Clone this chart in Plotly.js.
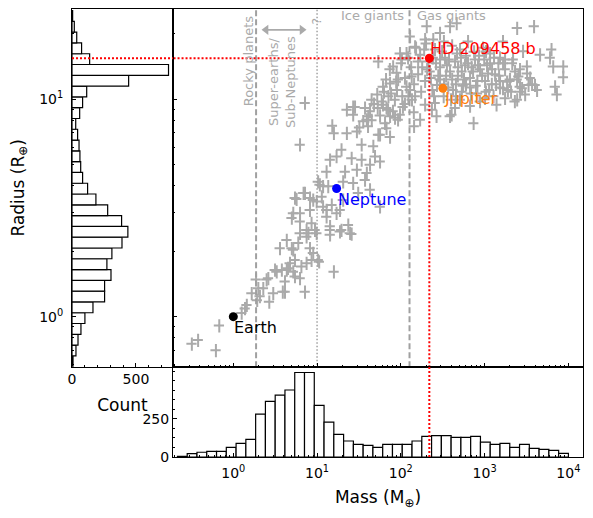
<!DOCTYPE html>
<html><head><meta charset="utf-8">
<script src="https://cdn.plot.ly/plotly-3.0.1.min.js"></script>
<style>html,body{margin:0;padding:0;background:#fff}#chart{width:593px;height:518px}</style>
</head><body><div id="chart"></div>
<script>
// ---- data ----
const planetMass = [
0.32,0.38,0.62,0.68,1.38,1.26,1.45,1.87,1.99,1.66,2.08,1.93,2.69,3.0,3.9,2.62,3.3,4.14,4.35,4.75,
5.45,6.26,7.18,6.5,7.5,8.6,9.0,8.24,10.6,15.9,3.61,4.35,5.2,5.97,7.5,9.9,6.26,14.3,18.8,25.9,
10.8,13.6,6.9,5.45,8.24,9.9,11.8,15.0,18.8,20.5,5.2,6.26,8.6,9.45,7.9,13.0,14.3,19.6,23.6,24.8,
5.0,10.3,5.45,4.5,3.8,3.15,5.2,2.5,2.28,4.14,
7.18,6.26,15.2,15.9,22.7,29.9,27.0,35.6,27.0,42.9,39.3,56.5,67.5,74.4,34.1,47,25.9,34.1,42.9,56.5,
49.2,29.9,39.3,19.6,14.3,17.1,13.0,10.3,11.8,21.6,20.5,27.0,37.4,42.9,31.0,56.5,11.4,9.0,5.7,7.18,
5.0,6.26,8.24,13.0,17.1,14.3,7.5,61.3,80.6,106,144,97.9,74.4,
22.7,28.4,37.4,44.8,40.9,52.3,61.3,59.2,71.2,67.5,85.3,64.8,53.9,74.4,89,81,97.9,53.9,101,93,
117,123,135,129,117,148,204,195,256,267,387,244,294,387,465,
2450,3900,1660,2880,4600,6300,6050,6600,8700,8700,6950,7300,4000,3350,3200,2550,2650,3050,2300,1660,
1390,740,2000,1530,405,2450,143,
170,214,256,294,337,387,444,509,584,671,769,883,1013,1162,1334,1530,1756,2015,161,195,
238,294,368,455,535,671,820,1040,1280,133,112,90,129,223,410,635,960,1162,1530,750,
327,280,480,600,820,1100,1460,1900,2312,2652,200,152,103,85,112,148,195,325,509,883,
74,63,53,45,32,243,355,535,700,990,410,600,1220,180,270,455,1756,2140,2650,3500,
161,190,229,263,311,347,376,420,482,523,568,634,690,729,790,858,933,1070,1131,1228,
1371,1489,1662,1856,2071,2188,2443,2803,3217,3691,4235,122,144,175,206,249,328,398,553,1013,
136,104,88,76.5,66.6,56.5,47.9,40.6,70.4,92.7,170,235,444,671,1756,294,469,1041,1297,835
];
const planetRadius = [
0.75,0.78,0.70,0.91,1.09,1.04,1.13,1.48,1.35,1.28,1.24,1.19,1.17,1.28,1.30,1.50,1.61,1.45,1.64,1.76,
1.53,1.50,1.30,1.70,1.76,1.82,1.96,2.06,1.79,1.61,2.06,2.25,2.03,2.18,2.33,2.42,2.42,2.38,2.46,2.40,
4.04,3.97,3.70,3.51,3.51,3.38,3.20,3.26,3.09,3.44,2.99,2.74,2.69,2.50,2.42,2.88,2.50,2.50,2.64,2.42,
2.06,1.82,1.82,1.67,1.64,1.64,1.61,1.48,1.35,1.30,
9.6,6.17,7.54,6.97,6.97,7.1,8.48,7.9,9.2,8.8,8.04,6.86,7.35,6.7,6.17,6.07,5.35,5.26,4.99,5.16,
5.45,4.73,4.57,5.85,5.26,5.45,4.64,4.17,3.97,4.64,4.17,4.11,4.25,3.83,3.70,3.20,3.56,3.44,3.47,3.70,
2.84,2.99,3.09,3.09,2.99,2.60,2.50,9.42,8.8,9.2,7.5,8.48,8.34,
8.94,9.2,9.1,9.94,8.34,10.5,11.4,9.75,10.3,9.1,8.2,7.75,6.86,11.8,13.2,14.1,16.2,14.9,14.6,12.3,
11.4,10.3,12.7,19.4,16.2,17.4,21.6,18.8,9.6,8.34,8.34,18.8,20.1,21.6,22.3,
21.2,21.6,18.4,16.6,16.0,16.9,15.5,14.1,14.1,12.6,11.4,10.5,11.6,11.6,14.1,12.7,11.4,10.5,9.75,11.2,
9.42,7.75,12.1,12.1,8.48,9.94,8.7,
16.0,14.9,16.9,14.0,15.5,13.4,14.9,16.9,14.3,12.5,15.2,13.7,12.1,14.6,13.0,11.3,13.7,12.3,13.0,12.1,
11.0,12.3,11.3,11.7,10.8,11.3,10.6,10.8,10.3,14.0,12.5,11.0,11.0,13.4,17.6,18.4,17.2,16.2,15.5,16.5,
18.4,12.8,12.8,15.8,12.1,13.1,14.6,11.0,13.4,10.8,18.0,17.2,15.2,9.94,9.5,10.3,9.42,10.3,9.94,9.75,
13.7,10.8,9.1,8.0,7.4,15.5,14.3,13.4,14.0,15.2,12.3,11.7,11.7,14.0,11.6,10.3,15.2,14.6,13.7,12.5,
14.9,16.9,12.5,14.6,16.55,12.8,15.2,11.0,14.0,15.5,12.3,14.6,10.6,13.4,11.5,15.8,12.8,14.3,11.0,13.7,
11.7,12.8,14.6,12.0,10.8,15.2,12.3,11.2,13.1,11.7,11.0,15.5,11.7,10.8,13.7,10.3,11.7,9.94,11.5,10.1,
9.94,10.3,12.0,10.6,12.3,8.4,9.5,7.5,8.94,8.04,8.04,8.94,9.1,9.3,10.1,15.2,16.2,16.55,15.5,14.3
];

const namedPlanets = ['Earth', 'Neptune', 'Jupiter', 'HD 209458 b'];
const namedMass    = [1, 17.1, 317.8, 219];
const namedRadius  = [1, 3.88, 11.2, 15.4];
const namedColor   = ['#000000', '#0000ff', '#ff7f0e', '#ff0000'];

// histogram of log10(mass): 40 bins
const massCounts = [4,22,31,37,37,63,89,116,281,364,406,439,554,554,338,229,148,105,83,76,
                    63,83,83,83,105,135,140,140,129,129,135,98,83,89,63,83,57,50,44,24];
const massBinStart = -0.667, massBinWidth = 0.1167;
// histogram of log10(radius): 33 bins, bottom to top
const radiusCounts = [8,31,47,70,101,164,255,255,305,273,312,391,437,388,279,187,122,83,68,62,
                      55,44,29,60,83,115,443,755,138,75,37,18,5];
const radiusBinStart = -0.230, radiusBinWidth = 0.0496;

const classBoundaryMass = [1.87, 10, 127];   // rocky | super-earth | ? | ice giant | gas giant
const arrowMass = [2.46, 6.61], arrowRadius = [20.8, 20.8];
const decadeTicks = [0, 1, 2, 3, 4];

// ---- geometry ----
const D0 = 0.19765, E0 = 0.2016;
const xRangeLog = [-0.72, 4.175], yRangeLog = [-0.230, 1.414];
const GRAY = '#aaaaaa', LINEGRAY = '#a0a0a0';
const lg = Math.log10;

const minorMass = [];
for (let e = -1; e <= 3; e++) for (let d = 2; d <= 9; d++) minorMass.push(d * Math.pow(10, e));
const minorRad = [];
for (let e = -1; e <= 1; e++) for (let d = 2; d <= 9; d++) minorRad.push(d * Math.pow(10, e));

const traces = [];
traces.push({type:'scatter', mode:'markers', x: planetMass, y: planetRadius, xaxis:'x', yaxis:'y',
  marker:{size:2, color:GRAY},
  error_x:{type:'percent', value:14, color:GRAY, thickness:2, width:0},
  error_y:{type:'percent', value:7, color:GRAY, thickness:2, width:0},
  hoverinfo:'skip'});
classBoundaryMass.forEach((m, i) => {
  traces.push({type:'scatter', mode:'lines', x:[m, m], y:[0.4, 40], xaxis:'x', yaxis:'y',
    line: i === 1 ? {color:LINEGRAY, width:1.5, dash:'1.5px,2px'} : {color:LINEGRAY, width:2, dash:'6px,3px'},
    hoverinfo:'skip'});
});
// double-headed arrow over the super-earth band
traces.push({type:'scatter', mode:'lines+markers', x: arrowMass, y: arrowRadius, xaxis:'x', yaxis:'y',
  line:{color:GRAY, width:1.8}, marker:{symbol:['triangle-left','triangle-right'], size:9, color:GRAY},
  hoverinfo:'skip'});
const hd = 3;
traces.push({type:'scatter', mode:'lines', x:[0.1, namedMass[hd]], y:[namedRadius[hd], namedRadius[hd]],
  xaxis:'x', yaxis:'y', line:{color:'#ff0000', width:2, dash:'2px,2px'}, hoverinfo:'skip'});
traces.push({type:'scatter', mode:'lines', x:[namedMass[hd], namedMass[hd]], y:[0.4, namedRadius[hd]],
  xaxis:'x', yaxis:'y', line:{color:'#ff0000', width:2, dash:'2px,2px'}, hoverinfo:'skip'});
traces.push({type:'scatter', mode:'markers', x: namedMass, y: namedRadius, hovertext: namedPlanets,
  xaxis:'x', yaxis:'y', marker:{size:9, color: namedColor}});

// left histogram (radius)
traces.push({type:'bar', orientation:'h', xaxis:'x2', yaxis:'y2',
  y: radiusCounts.map((c, i) => radiusBinStart + (i + 0.5) * radiusBinWidth),
  x: radiusCounts, width: radiusBinWidth,
  marker:{color:'white', line:{color:'black', width:1.2}}, hoverinfo:'x'});
// bottom histogram (mass)
traces.push({type:'bar', xaxis:'x3', yaxis:'y3',
  x: massCounts.map((c, i) => massBinStart + (i + 0.5) * massBinWidth),
  y: massCounts, width: massBinWidth,
  marker:{color:'white', line:{color:'black', width:1.2}}, hoverinfo:'y'});

const axBase = {showline:true, mirror:true, linecolor:'black', linewidth:1, showgrid:false, zeroline:false,
  ticks:'inside', ticklen:4, tickwidth:1, tickcolor:'black'};
const decadeText = decadeTicks.map(k => '10<sup>' + k + '</sup>');

const annotations = [];
const labelPos = [
  {xa:'left', ya:'top'}, {xa:'left', ya:'top'}, {xa:'left', ya:'top'}, {xa:'left', ya:'bottom'}
];
namedPlanets.forEach((n, i) => {
  annotations.push({xref:'x', yref:'y', x: lg(namedMass[i]), y: lg(namedRadius[i]), text: n,
    showarrow:false, xanchor: labelPos[i].xa, yanchor: labelPos[i].ya,
    font:{size:16, color: namedColor[i]}, xshift:-1, yshift: labelPos[i].ya === 'top' ? 1 : -2});
});
const gfont = {size:13, color:GRAY};
annotations.push({xref:'x', yref:'y', x: lg(1.52), y: lg(15.0), text:'Rocky planets', textangle:-90,
  showarrow:false, font:gfont});
annotations.push({xref:'x', yref:'y', x: lg(3.82), y: lg(12.0), text:'Super-earths/<br>Sub-Neptunes', textangle:-90,
  showarrow:false, font:gfont});
annotations.push({xref:'x', yref:'y', x: lg(10), y: lg(22.7), text:'?', textangle:-90, showarrow:false, font:gfont});
annotations.push({xref:'x', yref:'y', x: lg(114), y: lg(24.2), text:'Ice giants', xanchor:'right', showarrow:false, font:gfont});
annotations.push({xref:'x', yref:'y', x: lg(146), y: lg(24.2), text:'Gas giants', xanchor:'left', showarrow:false, font:gfont});

const minorStyle = {ticks:'inside', ticklen:2, tickcolor:'black', showgrid:false};
const layout = {
  width:593, height:518, margin:{l:72, r:10, t:9, b:61},
  paper_bgcolor:'white', plot_bgcolor:'white', showlegend:false,
  font:{family:'DejaVu Sans, sans-serif', size:14, color:'black'},
  xaxis: Object.assign({}, axBase, {type:'log', domain:[D0, 1], range:xRangeLog, anchor:'y',
    showticklabels:false, tickvals:[1,10,100,1000,10000],
    minor:Object.assign({tickvals:minorMass}, minorStyle)}),
  yaxis: Object.assign({}, axBase, {type:'log', domain:[E0, 1], range:yRangeLog, anchor:'x',
    showticklabels:false, tickvals:[1,10],
    minor:Object.assign({tickvals:minorRad}, minorStyle)}),
  xaxis2: Object.assign({}, axBase, {domain:[0, D0], range:[0, 790], anchor:'y2',
    tickvals:[0,500], ticktext:['0','500'], title:{text:'Count', standoff:12},
    minor:Object.assign({tickvals:[100,200,300,400,600,700]}, minorStyle)}),
  yaxis2: Object.assign({}, axBase, {domain:[E0, 1], range:yRangeLog, anchor:'x2', ticklabelstandoff:5,
    tickvals:[0,1], ticktext:['10<sup>0</sup>','10<sup>1</sup>'], title:{text:'Radius (R<sub>⊕</sub>)', standoff:10},
    minor:Object.assign({tickvals:minorRad.map(lg)}, minorStyle)}),
  xaxis3: Object.assign({}, axBase, {domain:[D0, 1], range:xRangeLog, anchor:'y3', ticklabelstandoff:3,
    tickvals:decadeTicks, ticktext:decadeText, title:{text:'Mass (M<sub>⊕</sub>)', standoff:11},
    minor:Object.assign({tickvals:minorMass.map(lg)}, minorStyle)}),
  yaxis3: Object.assign({}, axBase, {domain:[0, E0], range:[0, 592], anchor:'x3',
    tickvals:[0,250], ticktext:['0','250'],
    minor:Object.assign({tickvals:[62.5,125,187.5,312.5,375,437.5,500,562.5]}, minorStyle)}),
  shapes:[
    {type:'line', xref:'x2 domain', yref:'y2', x0:0, x1:1, y0:lg(namedRadius[hd]), y1:lg(namedRadius[hd]),
     line:{color:'#ff0000', width:2, dash:'2px,2px'}, layer:'above'},
    {type:'line', xref:'x3', yref:'y3 domain', x0:lg(namedMass[hd]), x1:lg(namedMass[hd]), y0:0, y1:1,
     line:{color:'#ff0000', width:2, dash:'2px,2px'}, layer:'above'}
  ],
  annotations: annotations
};

Plotly.newPlot('chart', traces, layout, {staticPlot:true, displayModeBar:false});
</script></body></html>
